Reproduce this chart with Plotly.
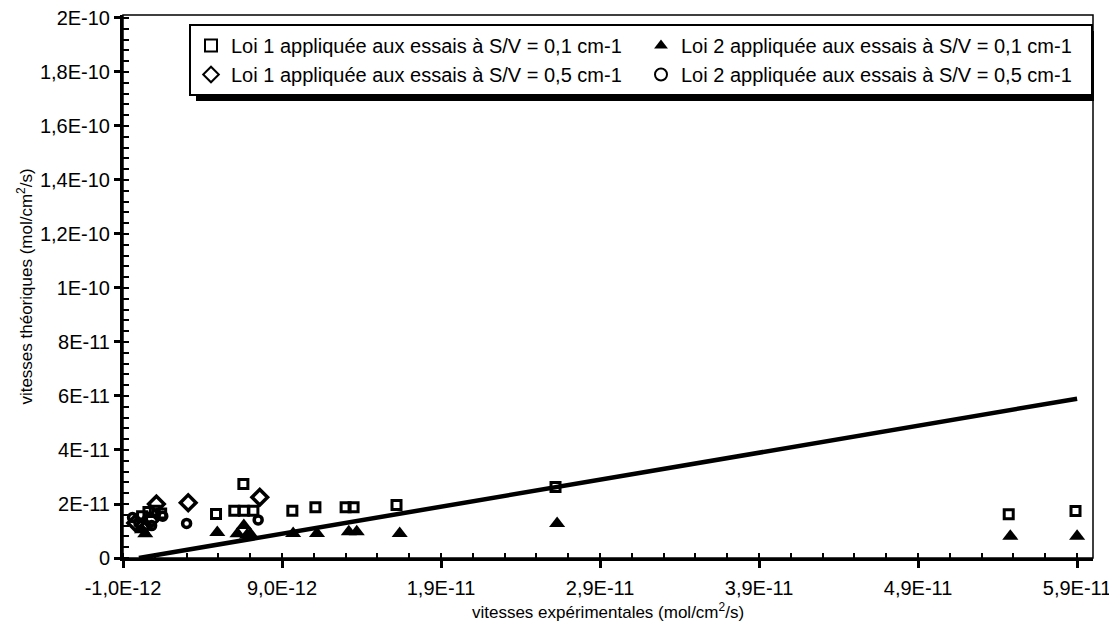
import plotly.graph_objects as go

E = 1e-12
# Loi 1, S/V = 0,1 cm-1 (open squares)
l1a_x = [0.2, 0.6, 1.0, 1.4, 4.85, 6.0, 6.6, 7.2, 6.57, 9.65, 11.1, 13.0, 13.5, 16.2, 26.2, 54.7, 58.9]
l1a_y = [15.5, 17.0, 17.5, 16.5, 16.3, 17.5, 17.5, 17.5, 27.4, 17.5, 18.8, 18.8, 18.8, 19.6, 26.3, 16.2, 17.4]
# Loi 2, S/V = 0,1 cm-1 (filled triangles)
l2a_x = [0.2, 0.4, 4.93, 6.2, 6.6, 7.0, 6.8, 9.7, 11.2, 13.2, 13.7, 16.4, 26.3, 54.8, 59.0]
l2a_y = [10.5, 9.0, 9.4, 9.0, 12.0, 9.0, 8.5, 9.1, 9.1, 9.7, 9.7, 9.1, 12.8, 8.1, 8.1]
# Loi 1, S/V = 0,5 cm-1 (diamonds)
l1b_x = [-0.2, 0.3, 0.7, 1.1, 3.1, 7.6]
l1b_y = [13.0, 12.0, 14.0, 20.0, 20.5, 22.5]
# Loi 2, S/V = 0,5 cm-1 (circles)
l2b_x = [-0.4, 0.0, 0.8, 1.5, 3.0, 7.5]
l2b_y = [15.0, 13.0, 12.0, 15.5, 12.8, 14.1]
# y = x reference line
line_x = [0.0, 59.0]
line_y = [0.0, 59.0]

legend_names = [
    "Loi 1 appliquée aux essais à S/V = 0,1 cm-1",
    "Loi 2 appliquée aux essais à S/V = 0,1 cm-1",
    "Loi 1 appliquée aux essais à S/V = 0,5 cm-1",
    "Loi 2 appliquée aux essais à S/V = 0,5 cm-1",
]
x_tickvals = [-1.0, 9.0, 19.0, 29.0, 39.0, 49.0, 59.0]
x_ticktext = ["-1,0E-12", "9,0E-12", "1,9E-11", "2,9E-11", "3,9E-11", "4,9E-11", "5,9E-11"]
y_tickvals = [0, 20, 40, 60, 80, 100, 120, 140, 160, 180, 200]
y_ticktext = ["0", "2E-11", "4E-11", "6E-11", "8E-11", "1E-10", "1,2E-10", "1,4E-10", "1,6E-10", "1,8E-10", "2E-10"]

def sc(v):
    return [a * E for a in v]

FONT = "Liberation Sans, Arial, sans-serif"
fig = go.Figure()
fig.add_trace(go.Scatter(x=sc(line_x), y=sc(line_y), mode="lines",
                         line=dict(color="black", width=4.5), showlegend=False, hoverinfo="skip"))
fig.add_trace(go.Scatter(x=sc(l1a_x), y=sc(l1a_y), mode="markers", name=legend_names[0],
                         marker=dict(symbol="square-open", size=9, color="black", line=dict(width=3, color="black"))))
fig.add_trace(go.Scatter(x=sc(l2a_x), y=sc(l2a_y), mode="markers", name=legend_names[1],
                         marker=dict(symbol="triangle-up", size=14, color="black")))
fig.add_trace(go.Scatter(x=sc(l1b_x), y=sc(l1b_y), mode="markers", name=legend_names[2],
                         marker=dict(symbol="diamond-open", size=12, color="black", line=dict(width=3.5, color="black"))))
fig.add_trace(go.Scatter(x=sc(l2b_x), y=sc(l2b_y), mode="markers", name=legend_names[3],
                         marker=dict(symbol="circle-open", size=8, color="black", line=dict(width=3.5, color="black"))))

# page offset of the figure (default body margin)
OFF = 8
W, H = 1117, 627
# plot area in page pixels: left 123, right 1093, top 15, bottom 558
L = 123 - OFF
T = 15 - OFF
R = W - (1093 - OFF)
B = H - (558 - OFF)
pw, ph = W - L - R, H - T - B

def px_x(p):
    return (p - OFF - L) / pw

def px_y(p):
    return (H - B - (p - OFF)) / ph

fig.update_layout(
    width=W, height=H,
    margin=dict(l=L, r=R, t=T, b=B, autoexpand=False),
    paper_bgcolor="white", plot_bgcolor="white",
    font=dict(family=FONT, size=20, color="black"),
    showlegend=True,
    legend=dict(orientation="h", x=px_x(189), y=px_y(24), xanchor="left", yanchor="top",
                bgcolor="white", bordercolor="black", borderwidth=2,
                entrywidth=405, entrywidthmode="pixels", itemsizing="constant",
                font=dict(family=FONT, size=20, color="black"), tracegroupgap=0,
                traceorder="normal", itemwidth=30),
    shapes=[
        dict(type="rect", xref="paper", yref="paper", x0=0, x1=1, y0=0, y1=1,
             line=dict(color="black", width=1.5), layer="below"),
        dict(type="rect", xref="paper", yref="paper", x0=px_x(196), x1=px_x(1094),
             y0=px_y(101), y1=px_y(31), fillcolor="black", line=dict(width=0), layer="above"),
    ],
)
fig.update_xaxes(
    range=[-1.0 * E, 60.0 * E], tickmode="array", tickvals=sc(x_tickvals), ticktext=x_ticktext,
    showgrid=False, zeroline=False, showline=True, linecolor="black", linewidth=3,
    ticks="outside", ticklen=7, tickwidth=3, tickcolor="black", ticklabelstandoff=3,
    automargin=False, ticklabeloverflow="allow",
    minor=dict(tickmode="linear", tick0=-1.0 * E, dtick=2.0 * E, ticks="inside", ticklen=5,
               tickwidth=2, tickcolor="black", showgrid=False),
    title=dict(text="vitesses expérimentales (mol/cm<sup>2</sup>/s)", standoff=9,
               font=dict(family=FONT, size=17)),
    tickfont=dict(family=FONT, size=20),
)
fig.update_yaxes(
    range=[0, 201.1 * E], tickmode="array", tickvals=sc(y_tickvals), ticktext=y_ticktext,
    showgrid=False, zeroline=False, showline=True, linecolor="black", linewidth=3,
    ticks="outside", ticklen=6, tickwidth=3, tickcolor="black", automargin=False,
    ticklabeloverflow="allow",
    minor=dict(tickmode="linear", tick0=0, dtick=4.0 * E, ticks="inside", ticklen=6,
               tickwidth=2, tickcolor="black", showgrid=False),
    title=dict(text="vitesses théoriques (mol/cm<sup>2</sup>/s)", standoff=3,
               font=dict(family=FONT, size=17)),
    tickfont=dict(family=FONT, size=20),
)
fig.write_html("out.html")
